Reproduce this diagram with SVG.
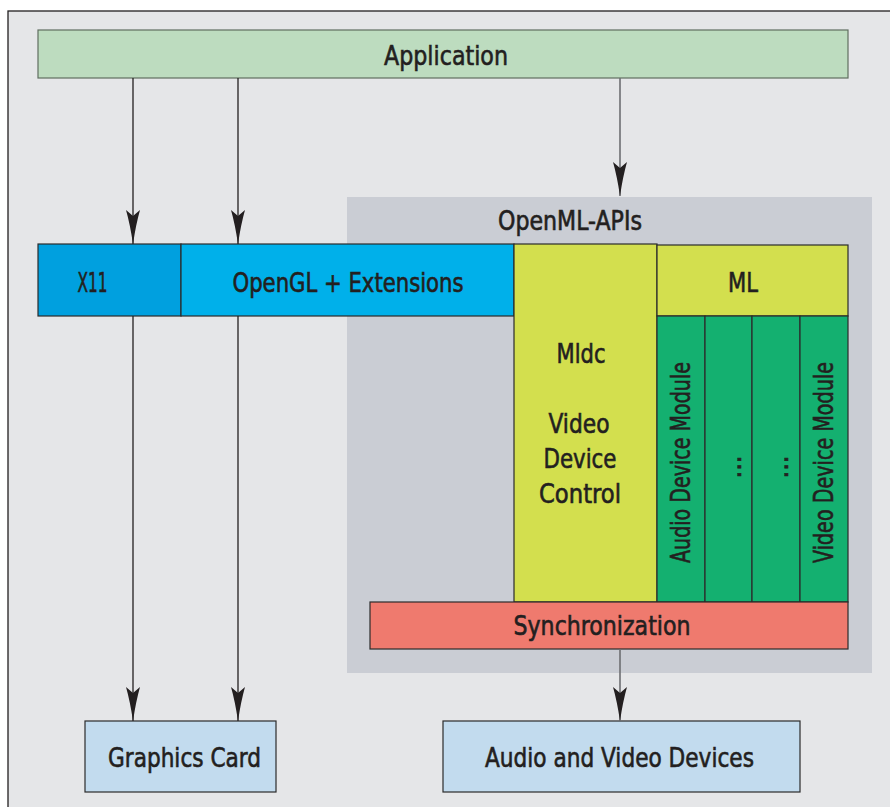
<svg xmlns="http://www.w3.org/2000/svg" width="890" height="807" viewBox="0 0 890 807">
<style>
text{font-family:"DejaVu Sans Condensed","Liberation Sans Narrow","DejaVu Sans",sans-serif;font-size:27px;fill:#231f20;stroke:#231f20;stroke-width:0.6;text-anchor:middle}
.box{stroke:#2b2b2b;stroke-width:1.2}
.ln{stroke:#231f20;stroke-width:1.3;fill:none}
.lg{stroke:#6d6e71;stroke-width:1.6;fill:none}
</style>
<defs>
<marker id="ah" markerUnits="userSpaceOnUse" viewBox="0 0 34 16" refX="34" refY="8" markerWidth="34" markerHeight="16" orient="auto">
<path d="M34,8 Q14,5 0,1 L6,8 L0,15 Q14,11 34,8 Z" fill="#231f20"/>
</marker>
</defs>
<rect x="0" y="0" width="890" height="807" fill="#ffffff"/>
<rect x="8" y="11" width="900" height="820" fill="#e5e6e8" stroke="#231f20" stroke-width="1.3"/>
<g id="openml-apis">
<rect x="347" y="197" width="525" height="476" fill="#cacdd4"/>
<text x="570" y="230" textLength="144" lengthAdjust="spacingAndGlyphs">OpenML-APIs</text>
</g>
<g id="application">
<rect x="38" y="30" width="810" height="48" fill="#bddcbf" stroke="#5f6e60" stroke-width="1.2"/>
<text x="446" y="65" textLength="124" lengthAdjust="spacingAndGlyphs">Application</text>
</g>
<g id="x11">
<rect class="box" x="38" y="244" width="143" height="72" fill="#00a0df"/>
<text x="92.5" y="292" textLength="30" lengthAdjust="spacingAndGlyphs">X11</text>
</g>
<g id="opengl">
<rect class="box" x="181" y="244" width="333" height="72" fill="#00b0ea"/>
<text x="348" y="292" textLength="231" lengthAdjust="spacingAndGlyphs">OpenGL + Extensions</text>
</g>
<g id="mldc">
<rect class="box" x="514" y="244" width="143" height="358" fill="#d3df4e"/>
<text x="581" y="363" textLength="49" lengthAdjust="spacingAndGlyphs">Mldc</text>
<text x="579" y="433" textLength="61" lengthAdjust="spacingAndGlyphs">Video</text>
<text x="580" y="468" textLength="73" lengthAdjust="spacingAndGlyphs">Device</text>
<text x="580" y="503" textLength="82" lengthAdjust="spacingAndGlyphs">Control</text>
</g>
<g id="ml">
<rect class="box" x="657" y="245" width="191" height="71" fill="#d3df4e"/>
<text x="743" y="292" textLength="30" lengthAdjust="spacingAndGlyphs">ML</text>
</g>
<g id="audio-device-module">
<rect class="box" x="657" y="316" width="48" height="286" fill="#14b070"/>
<text transform="translate(690,462.5) rotate(-90)" x="0" y="0" textLength="201" lengthAdjust="spacingAndGlyphs">Audio Device Module</text>
</g>
<g id="module-dots-1">
<rect class="box" x="705" y="316" width="47" height="286" fill="#14b070"/>
<text transform="translate(741,467) rotate(-90)" x="0" y="0">...</text>
</g>
<g id="module-dots-2">
<rect class="box" x="752" y="316" width="48" height="286" fill="#14b070"/>
<text transform="translate(788,467) rotate(-90)" x="0" y="0">...</text>
</g>
<g id="video-device-module">
<rect class="box" x="800" y="316" width="48" height="286" fill="#14b070"/>
<text transform="translate(833,462.5) rotate(-90)" x="0" y="0" textLength="201" lengthAdjust="spacingAndGlyphs">Video Device Module</text>
</g>
<g id="synchronization">
<rect class="box" x="370" y="602" width="478" height="47" fill="#ef7a6e"/>
<text x="602" y="635" textLength="177" lengthAdjust="spacingAndGlyphs">Synchronization</text>
</g>
<g id="graphics-card">
<rect class="box" x="85" y="721" width="191" height="71" fill="#c2dbee"/>
<text x="184.5" y="767" textLength="153" lengthAdjust="spacingAndGlyphs">Graphics Card</text>
</g>
<g id="audio-video-devices">
<rect class="box" x="443" y="721" width="357" height="71" fill="#c2dbee"/>
<text x="619.5" y="767" textLength="269" lengthAdjust="spacingAndGlyphs">Audio and Video Devices</text>
</g>
<g id="connectors">
<line class="ln" x1="133" y1="78" x2="133" y2="244" marker-end="url(#ah)"/>
<line class="ln" x1="238" y1="78" x2="238" y2="244" marker-end="url(#ah)"/>
<line class="lg" x1="620" y1="78" x2="620" y2="196" marker-end="url(#ah)"/>
<line class="ln" x1="133" y1="316" x2="133" y2="721" marker-end="url(#ah)"/>
<line class="ln" x1="238" y1="316" x2="238" y2="721" marker-end="url(#ah)"/>
<line class="lg" x1="620" y1="649" x2="620" y2="721" marker-end="url(#ah)"/>
</g>
</svg>
